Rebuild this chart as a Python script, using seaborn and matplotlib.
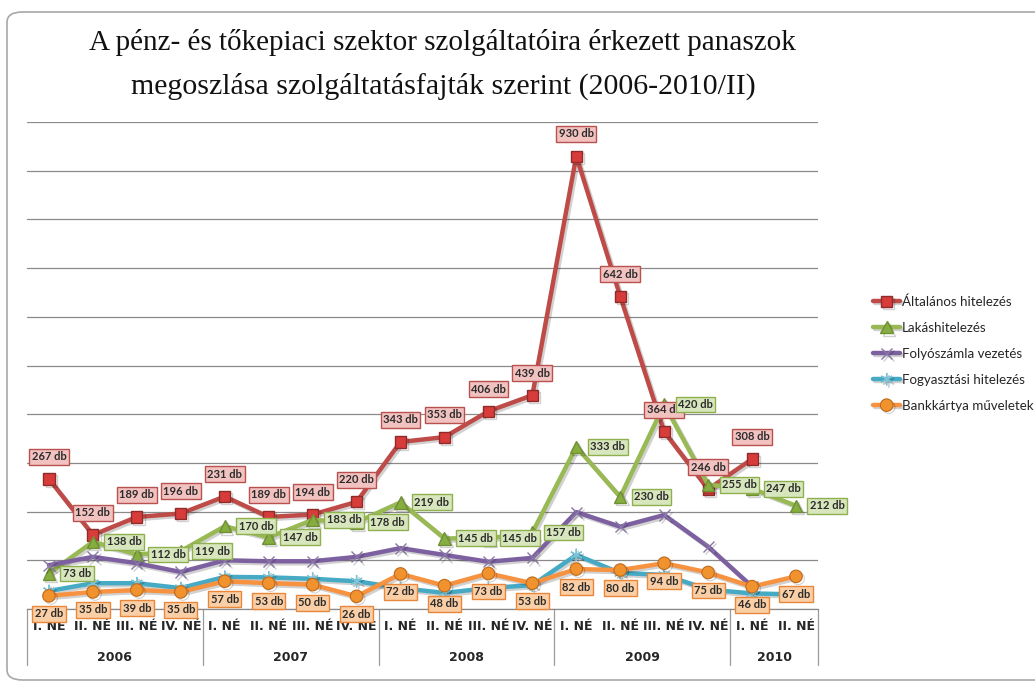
import numpy as np
import pandas as pd
import seaborn as sns
import matplotlib.pyplot as plt
import matplotlib.transforms as mtransforms
from matplotlib.patches import FancyBboxPatch
from matplotlib import patheffects as pe

# Quarterly complaint counts (db), 2006 I - 2010 II
quarters = ['I. NÉ', 'II. NÉ', 'III. NÉ', 'IV. NÉ'] * 4 + ['I. NÉ', 'II. NÉ']
years = ['2006', '2007', '2008', '2009', '2010']
year_sizes = [4, 4, 4, 4, 2]

altalanos = [267, 152, 189, 196, 231, 189, 194, 220, 343, 353, 406, 439, 930, 642, 364, 246, 308, np.nan]
lakas = [73, 138, 112, 119, 170, 147, 183, 178, 219, 145, 145, 157, 333, 230, 420, 255, 247, 212]
folyoszamla = [90, 107, 94, 76, 100, 98, 98, 107, 125, 111, 97, 105, 199, 169, 193, 128, 46, np.nan]
fogyasztasi = [37, 53, 53, 43, 66, 65, 62, 57, 43, 33, 43, 49, 111, 74, 70, 40, 32, 30]
bankkartya = [27, 35, 39, 35, 57, 53, 50, 26, 72, 48, 73, 53, 82, 80, 94, 75, 46, 67]

series_names = ['Általános hitelezés', 'Lakáshitelezés', 'Folyószámla vezetés',
                'Fogyasztási hitelezés', 'Bankkártya műveletek']
series_values = [altalanos, lakas, folyoszamla, fogyasztasi, bankkartya]

# style per series: line colour, marker, marker face, marker edge, label box (face, edge), label placement
styles = {
    'Általános hitelezés': dict(color='#be4b48', marker='s', ms=8, mfc='#d83c3a', mec='#8e2c2a', mew=1.0,
                                box=('#f2c2c1', '#b9514e'), place='above'),
    'Lakáshitelezés': dict(color='#98b954', marker='^', ms=9, mfc='#86ad3f', mec='#6f8f35', mew=1.0,
                           box=('#d8e6bd', '#8fb04e'), place='right'),
    'Folyószámla vezetés': dict(color='#7d60a0', marker='x', ms=8, mfc='none', mec='#8a78a8', mew=1.0,
                                box=None, place=None),
    'Fogyasztási hitelezés': dict(color='#46aac5', marker=(6, 2, 0), ms=9, mfc='none', mec='#7cc3d6', mew=1.0,
                                  box=None, place=None),
    'Bankkártya műveletek': dict(color='#f69240', marker='o', ms=9, mfc='#f0922e', mec='#c06a1a', mew=0.8,
                                 box=('#fbcfa6', '#e8873a'), place='below'),
}

x = np.arange(len(quarters))

fig = plt.figure(figsize=(10.35, 6.83), dpi=100)
sns.set_style('white')

# outer rounded frame
frame = FancyBboxPatch((7 / 1035, 3 / 683), 1060 / 1035, 668 / 683,
                       boxstyle='round,pad=0,rounding_size=0.015', transform=fig.transFigure,
                       facecolor='white', edgecolor='#a8a8a8', linewidth=1.2, zorder=-10)
fig.patches.append(frame)

ax = fig.add_axes([27 / 1035, 74 / 683, 791 / 1035, 487 / 683])
ax.set_facecolor('none')

for name, vals in zip(series_names, series_values):
    st = styles[name]
    sns.lineplot(x=x, y=vals, ax=ax, color=st['color'], linewidth=3.2, label=name,
                 marker=st['marker'], markersize=st['ms'], markerfacecolor=st['mfc'],
                 markeredgecolor=st['mec'], markeredgewidth=st['mew'],
                 path_effects=[pe.SimpleLineShadow(offset=(1.5, -1.5), alpha=0.18), pe.Normal()])

# data labels
offsets = {'above': ((0, 12), 'center', 'bottom'),
           'right': ((10, 0), 'left', 'center'),
           'below': ((0, -9), 'center', 'top')}
for name, vals in zip(series_names, series_values):
    st = styles[name]
    if st['box'] is None:
        continue
    off, ha, va = offsets[st['place']]
    for xi, v in zip(x, vals):
        if np.isnan(v):
            continue
        ax.annotate(f'{int(v)} db', (xi, v), xytext=off, textcoords='offset points',
                    ha=ha, va=va, fontsize=8, family='Lato', fontweight='bold', color='#2b2b2b',
                    bbox=dict(boxstyle='square,pad=0.22', facecolor=st['box'][0],
                              edgecolor=st['box'][1], linewidth=1.0),
                    zorder=10)

ax.set_xlim(-0.5, len(quarters) - 0.5)
ax.set_ylim(0, 1000)
ax.set_yticks(np.arange(0, 1001, 100))
ax.set_yticklabels([])
ax.grid(axis='y', color='#8a8a8a', linewidth=0.9)
ax.grid(axis='x', visible=False)
ax.set_axisbelow(True)
for s in ['top', 'right', 'left']:
    ax.spines[s].set_visible(False)
ax.spines['bottom'].set_color('#8a8a8a')
ax.spines['bottom'].set_linewidth(0.9)
ax.tick_params(axis='y', length=0)
ax.set_xticks(x)
ax.set_xticklabels(quarters, fontsize=9, fontweight='bold', family='DejaVu Sans')
ax.tick_params(axis='x', length=0, pad=8)
ax.set_xlabel('')
ax.set_ylabel('')

# year groups under the quarter labels
trans = mtransforms.blended_transform_factory(ax.transData, ax.transAxes)
bounds = np.concatenate([[0], np.cumsum(year_sizes)]) - 0.5
for b in bounds:
    ax.plot([b, b], [0, -0.115], transform=trans, color='#9a9a9a', linewidth=0.9, clip_on=False)
for yr, lo, hi in zip(years, bounds[:-1], bounds[1:]):
    ax.text((lo + hi) / 2, -0.099, yr, transform=trans, ha='center', va='center',
            fontsize=9, fontweight='bold', family='DejaVu Sans')

# legend
handles, labels = ax.get_legend_handles_labels()
if ax.legend_:
    ax.legend_.remove()
fig.legend(handles, labels, loc='upper left', bbox_to_anchor=(868 / 1035, 1 - 290 / 683),
           frameon=False, prop={'family': 'Lato', 'size': 9.6}, handlelength=2.0,
           handletextpad=0.15, labelspacing=1.05, borderaxespad=0)

fig.text(442 / 1035, 1 - 43 / 683, 'A pénz- és tőkepiaci szektor szolgáltatóira érkezett panaszok',
         ha='center', va='center', fontsize=21, family='Liberation Serif', color='#111111')
fig.text(443 / 1035, 1 - 86 / 683, 'megoszlása szolgáltatásfajták szerint (2006-2010/II)',
         ha='center', va='center', fontsize=21.5, family='Liberation Serif', color='#111111')

fig.savefig('out.png', dpi=100)
